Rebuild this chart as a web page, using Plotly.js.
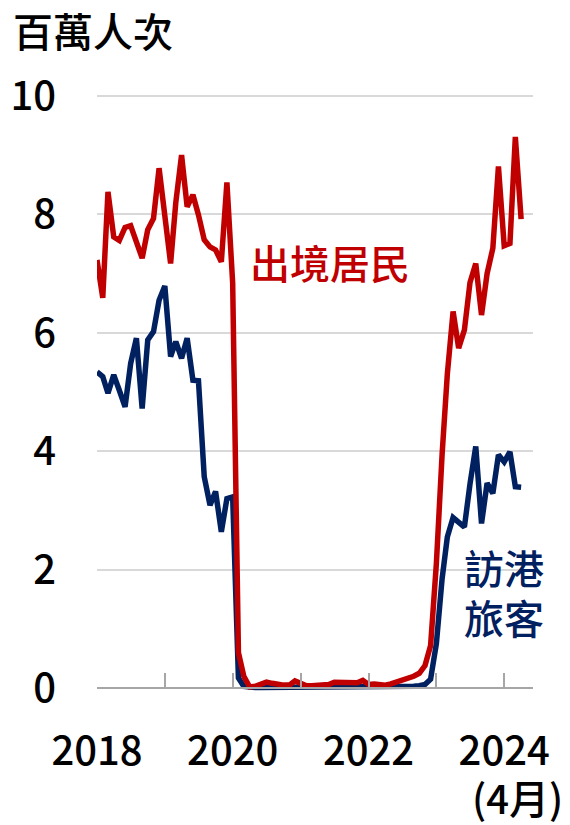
<!DOCTYPE html>
<html>
<head>
<meta charset="utf-8">
<script src="https://cdn.plot.ly/plotly-3.0.1.min.js"></script>
<style>
  html, body { margin: 0; padding: 0; background: #ffffff; }
  #chart { width: 570px; height: 825px; }
</style>
</head>
<body>
<div id="chart"></div>
<script>
// Monthly series, Jan 2018 – Apr 2024 (millions of passenger trips)
const startYear = 2018;
const residentsDeparting = [
  7.23, 6.59, 8.38, 7.62, 7.56, 7.78, 7.81, 7.55, 7.26, 7.74, 7.93, 8.78,
  7.90, 7.17, 8.20, 9.00, 8.13, 8.33, 7.99, 7.57, 7.45, 7.40, 7.20, 8.54,
  6.84, 0.60, 0.20, 0.02, 0.03, 0.07, 0.10, 0.08, 0.06, 0.05, 0.05, 0.12,
  0.08, 0.04, 0.04, 0.05, 0.05, 0.06, 0.10, 0.10, 0.09, 0.09, 0.09, 0.13,
  0.06, 0.07, 0.06, 0.05, 0.07, 0.10, 0.13, 0.16, 0.20, 0.25, 0.38, 0.72,
  2.10, 3.95, 5.30, 6.36, 5.74, 6.05, 6.85, 7.17, 6.30, 7.00, 7.43, 8.81,
  7.47, 7.51, 9.31, 7.92
];
const visitors = [
  5.34, 5.26, 4.98, 5.29, 5.03, 4.75, 5.48, 5.91, 4.72, 5.88, 6.02, 6.55,
  6.79, 5.60, 5.85, 5.57, 5.91, 5.20, 5.19, 3.57, 3.09, 3.32, 2.64, 3.20,
  3.23, 0.17, 0.03, 0.01, 0.01, 0.01, 0.01, 0.01, 0.01, 0.01, 0.01, 0.01,
  0.01, 0.01, 0.01, 0.01, 0.01, 0.01, 0.01, 0.01, 0.01, 0.01, 0.01, 0.01,
  0.01, 0.01, 0.01, 0.01, 0.01, 0.01, 0.02, 0.02, 0.03, 0.04, 0.06, 0.15,
  0.75, 1.85, 2.55, 2.88, 2.80, 2.72, 3.45, 4.08, 2.78, 3.46, 3.29, 3.94,
  3.82, 3.99, 3.40, 3.39
];
const xTickVals = ['2018-01-01','2019-01-01','2020-01-01','2021-01-01','2022-01-01','2023-01-01','2024-01-01'];
const xTickText = ['2018','','2020','','2022','','2024'];
const yTickVals = [0, 2, 4, 6, 8, 10];
const yTickText = ['0', '2', '4', '6', '8', '10'];
const unitLabel = '百萬人次';
const residentsLabel = '出境居民';
const visitorsLabel1 = '訪港';
const visitorsLabel2 = '旅客';
const lastMonthLabel = '(4月)';

// month dates (category axis positions)
const months = residentsDeparting.map((_, i) => {
  const y = startYear + Math.floor(i / 12);
  const m = (i % 12) + 1;
  return y + '-' + String(m).padStart(2, '0') + '-01';
});

const RED = '#C00000';
const NAVY = '#002060';
const FONT = '"Noto Sans CJK TC", "Noto Sans CJK SC", "Noto Sans", sans-serif';
const W = 500;

const yMin = -0.1, yMax = 10.05;

const traces = [
  { x: months, y: visitors, type: 'scatter', mode: 'lines', name: '訪港旅客',
    line: { color: NAVY, width: 5.5 }, hoverinfo: 'skip' },
  { x: months, y: residentsDeparting, type: 'scatter', mode: 'lines', name: '出境居民',
    line: { color: RED, width: 5.5 }, hoverinfo: 'skip' }
];

const layout = {
  width: 570, height: 825,
  margin: { l: 97, r: 37, t: 93, b: 131, pad: 0 },
  paper_bgcolor: '#ffffff', plot_bgcolor: '#ffffff',
  showlegend: false,
  font: { family: FONT, color: '#000000', size: 40, weight: W },
  title: { text: unitLabel, x: 13 / 570, xanchor: 'left', xref: 'container',
           y: 1 - 33 / 825, yanchor: 'middle', yref: 'container',
           font: { family: FONT, size: 40, color: '#000000', weight: W } },
  xaxis: {
    type: 'date',
    range: ['2018-01-01', '2024-06-04'],
    anchor: 'free',
    position: (0 - yMin) / (yMax - yMin),
    showgrid: false, zeroline: false,
    showline: true, linecolor: '#a6a6a6', linewidth: 2,
    ticks: 'inside', ticklen: 14, tickwidth: 2, tickcolor: '#a6a6a6',
    tickvals: xTickVals, ticktext: xTickText,
    tickfont: { family: FONT, size: 40, color: '#000000', weight: W },
    ticklabelstandoff: 28,
    fixedrange: true
  },
  yaxis: {
    range: [yMin, yMax],
    showgrid: true, gridcolor: '#d9d9d9', gridwidth: 2,
    zeroline: false, showline: false, ticks: '',
    tickvals: yTickVals, ticktext: yTickText,
    tickfont: { family: FONT, size: 40, color: '#000000', weight: W },
    ticklabelstandoff: 40,
    fixedrange: true
  },
  annotations: [
    { text: residentsLabel, xref: 'x', yref: 'y', x: '2021-06-10', y: 7.2,
      xanchor: 'center', yanchor: 'middle', showarrow: false,
      font: { family: FONT, size: 40, color: RED, weight: W } },
    { text: visitorsLabel1, xref: 'x', yref: 'y', x: '2024-01-01', y: 2.05,
      xanchor: 'center', yanchor: 'middle', showarrow: false,
      font: { family: FONT, size: 40, color: NAVY, weight: W } },
    { text: visitorsLabel2, xref: 'x', yref: 'y', x: '2024-01-01', y: 1.2,
      xanchor: 'center', yanchor: 'middle', showarrow: false,
      font: { family: FONT, size: 40, color: NAVY, weight: W } },
    { text: lastMonthLabel, xref: 'x', yref: 'paper', x: '2024-03-10', y: -0.172,
      xanchor: 'center', yanchor: 'middle', showarrow: false,
      font: { family: FONT, size: 40, color: '#000000', weight: W } }
  ]
};

Plotly.newPlot('chart', traces, layout, { displayModeBar: false, staticPlot: true });
</script>
</body>
</html>
